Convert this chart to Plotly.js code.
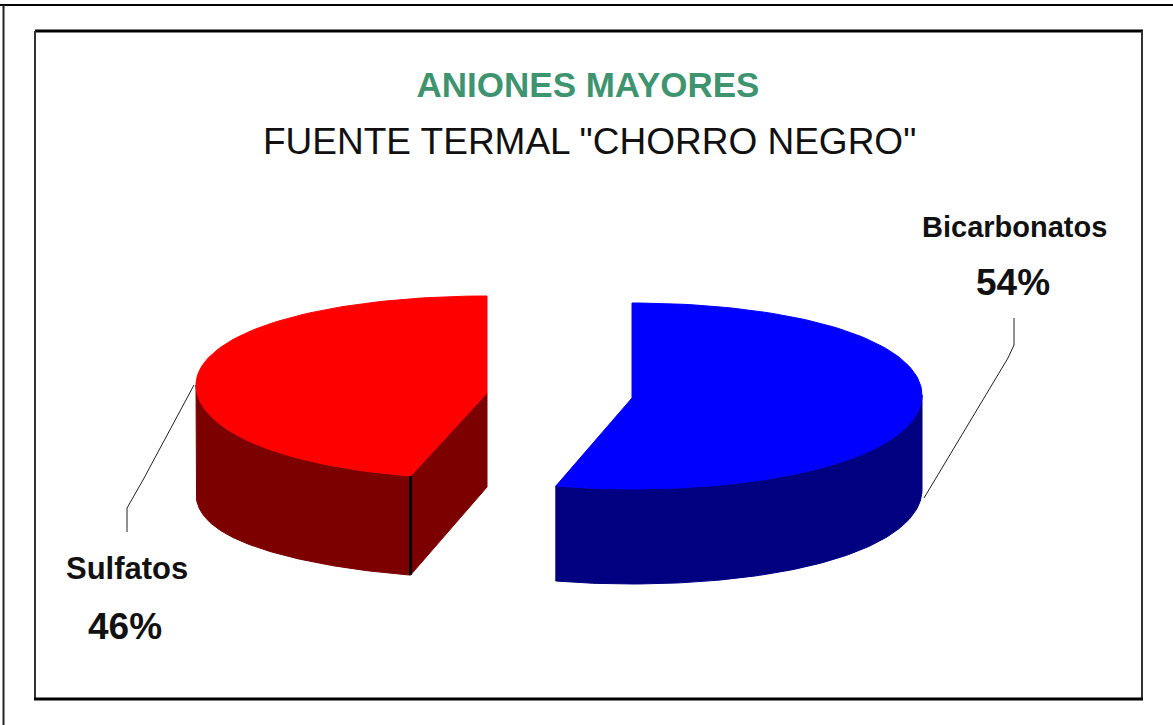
<!DOCTYPE html>
<html>
<head>
<meta charset="utf-8">
<script src="https://cdn.plot.ly/plotly-3.0.1.min.js"></script>
<style>html,body{margin:0;padding:0;background:#fff}#chart{width:1173px;height:725px}</style>
</head>
<body>
<div id="chart"></div>
<script>
const categories = ['Bicarbonatos', 'Sulfatos'];
const percents = [54, 46];
const titleLine = 'ANIONES MAYORES';
const subtitleLine = 'FUENTE TERMAL "CHORRO NEGRO"';

// Geometry of the exploded 3D pie, in picture pixels
const blueGeo = {cx: 632, cy: 395, rx: 290, ryTop: 92, ryBot: 94, apexY: 398, depth: 95, flare: 0, top: '#0000ff', side: '#000080'};
const redGeo  = {cx: 487, cy: 385, rx: 291, ryTop: 89, ryBot: 94, apexY: 393, depth: 99, flare: 10, top: '#ff0000', side: '#7c0000'};
const warp = 0.03;   // slight perspective skew of the rim

const total = percents.reduce((a, b) => a + b, 0);
const sweepBlue = percents[0] / total * 2 * Math.PI;

function rim(g, a) {            // a: clockwise from 12 o'clock
  const c = Math.cos(a);
  const s = Math.sin(a + warp * Math.sin(2 * a));
  return [g.cx + g.rx * s, g.cy - c * (c > 0 ? g.ryTop : g.ryBot), a];
}
function arc(g, a0, a1) {
  const pts = [];
  for (let i = 0; i <= 120; i++) pts.push(rim(g, a0 + (a1 - a0) * i / 120));
  return pts;
}
function poly(pts, color, line) {
  const closed = pts.concat([pts[0]]);
  return {
    type: 'scatter', mode: 'lines', fill: 'toself', fillcolor: color,
    x: closed.map(p => p[0]), y: closed.map(p => p[1]),
    line: line || {color: color, width: 1}, hoverinfo: 'skip', showlegend: false
  };
}
function wallBottom(g, pts) {
  return pts.map(p => [p[0], p[1] + g.depth + g.flare * Math.pow(Math.sin(p[2]), 4)]);
}

const traces = [];
function slice(g, a0, a1) {
  const apex = [g.cx, g.apexY];
  const top = arc(g, a0, a1);
  // outer wall: only the front half of the rim is visible
  const wa0 = Math.max(a0, Math.PI / 2), wa1 = Math.min(a1, 3 * Math.PI / 2);
  const wall = arc(g, wa0, wa1);
  traces.push(poly(wall.concat(wallBottom(g, wall).reverse()), g.side));
  return {apex, top};
}

// Blue slice starts at 12 o'clock and runs clockwise
const b = slice(blueGeo, 0, sweepBlue);
traces.push(poly([b.apex].concat(b.top), blueGeo.top));

// Red slice: the remainder; its cut face is visible
const r = slice(redGeo, sweepBlue, 2 * Math.PI);
const frontV = rim(redGeo, sweepBlue);
const backPt = [redGeo.cx, redGeo.apexY];
traces.push(poly([frontV, backPt, [backPt[0], backPt[1] + 94], [frontV[0], frontV[1] + redGeo.depth]], redGeo.side));
traces.push(poly([r.apex].concat(r.top), redGeo.top));
traces.push({
  type: 'scatter', mode: 'lines', x: [frontV[0], frontV[0]], y: [frontV[1], frontV[1] + redGeo.depth],
  line: {color: '#000', width: 3}, hoverinfo: 'skip', showlegend: false
});

function seg(x0, y0, x1, y1, color, w) {
  return {type: 'line', xref: 'x', yref: 'y', x0, y0, x1, y1, line: {color, width: w}, layer: 'above'};
}
const shapes = [
  seg(0, 5, 1173, 5, '#000', 2), seg(3.5, 5, 3.5, 725, '#222', 2),
  seg(35, 31, 1143, 31, '#000', 3), seg(1142, 31, 1142, 699, '#333', 2),
  seg(35, 31, 35, 699, '#333', 2), seg(34, 699, 1143, 699, '#000', 3),
  // leader lines
  seg(1014, 318, 1014, 345, '#222', 1), seg(1014, 345, 1008, 358, '#222', 1), seg(1008, 358, 924, 498, '#222', 1),
  seg(127, 532, 127, 508, '#222', 1), seg(127, 508, 143, 480, '#222', 1), seg(143, 480, 194, 385, '#222', 1)
];

const sans = '"Liberation Sans", Arial, sans-serif';
function lab(text, x, y, size, color) {
  return {text, x, y, xref: 'x', yref: 'y', showarrow: false, xanchor: 'center', yanchor: 'middle',
    font: {family: sans, size, color}};
}
const annotations = [
  lab(subtitleLine, 589, 141, 37, '#111'),
  lab('<b>' + categories[0] + '</b>', 1014, 227, 29, '#111'),
  lab('<b>' + percents[0] + '%</b>', 1013, 282, 37, '#111'),
  lab('<b>' + categories[1] + '</b>', 127, 568, 31, '#111'),
  lab('<b>' + percents[1] + '%</b>', 125, 626, 37, '#111')
];

const layout = {
  width: 1173, height: 725, margin: {l: 0, r: 0, t: 0, b: 0},
  paper_bgcolor: '#fff', plot_bgcolor: '#fff', showlegend: false,
  title: {text: titleLine, x: 588 / 1173, xanchor: 'center', y: 1 - 85 / 725, yanchor: 'middle',
    font: {family: sans, size: 35, color: '#3f9470', weight: 700}},
  xaxis: {range: [0, 1173], visible: false, fixedrange: true},
  yaxis: {range: [725, 0], visible: false, fixedrange: true},
  shapes, annotations
};
Plotly.newPlot('chart', traces, layout, {displayModeBar: false, staticPlot: true});
</script>
</body>
</html>
